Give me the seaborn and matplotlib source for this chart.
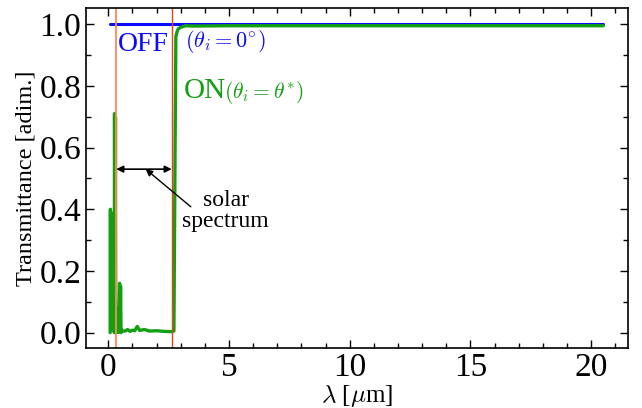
import numpy as np
import pandas as pd
import seaborn as sns
import matplotlib.pyplot as plt
from matplotlib.ticker import MultipleLocator

# OFF state: flat transmittance
x_off = [0.07, 20.5]
t_off = [1.0, 1.0]

# ON state
x_on = [0.08, 0.09, 0.10, 0.11, 0.12, 0.13, 0.14, 0.15, 0.17, 0.19, 0.21, 0.23, 0.25, 0.26, 0.28,
        0.30, 0.31, 0.33, 0.36, 0.38, 0.40, 0.42, 0.44, 0.47, 0.49, 0.51, 0.53, 0.55,
        0.60, 0.70, 0.80, 0.90, 1.00, 1.10, 1.20, 1.30, 1.50, 1.70, 2.00, 2.30, 2.60,
        2.72, 2.76, 2.80, 2.85, 2.90, 3.00, 3.20, 3.50, 5.0, 10.0, 15.0, 20.5]
t_on = [0.00, 0.40, 0.02, 0.39, 0.01, 0.38, 0.05, 0.35, 0.01, 0.30, 0.03, 0.25, 0.00, 0.71, 0.05,
        0.70, 0.00, 0.06, 0.08, 0.01, 0.07, 0.00, 0.04, 0.16, 0.02, 0.15, 0.00, 0.01,
        0.005, 0.005, 0.010, 0.004, 0.008, 0.006, 0.020, 0.007, 0.010, 0.005, 0.006, 0.004, 0.003,
        0.005, 0.50, 0.96, 0.975, 0.985, 0.990, 0.995, 0.994, 0.995, 0.995, 0.995, 0.995]

# solar spectrum limits
solar_lo, solar_hi = 0.33, 2.63

sns.set_style("ticks")
plt.rcParams['font.family'] = ['Liberation Serif', 'DejaVu Serif']
plt.rcParams['mathtext.fontset'] = 'cm'
for k in ['text.color', 'axes.labelcolor', 'xtick.color', 'ytick.color', 'axes.edgecolor']:
    plt.rcParams[k] = 'black'

blue = '#0a0aff'
green = '#12a012'

fig = plt.figure(figsize=(6.42, 4.08), dpi=100)
ax = fig.add_axes([0.134, 0.147, 0.844, 0.833])

sns.lineplot(x=x_off, y=t_off, ax=ax, color=blue, lw=2.2, estimator=None)
sns.lineplot(x=x_on, y=t_on, ax=ax, color=green, lw=2.4, estimator=None)

ax.axvline(solar_lo, color='#ff8855', lw=1.3)
ax.axvline(solar_hi, color='#e8401a', lw=1.0)

ax.annotate('', xy=(solar_lo, 0.53), xytext=(solar_hi, 0.53),
            arrowprops=dict(arrowstyle='<|-|>', color='black', lw=1.2,
                            mutation_scale=10, shrinkA=0, shrinkB=0))
ax.annotate('', xy=(1.55, 0.53), xytext=(3.42, 0.408),
            arrowprops=dict(arrowstyle='-|>', color='black', lw=1.0,
                            mutation_scale=10, shrinkA=0, shrinkB=0))
ax.text(4.86, 0.394, 'solar\nspectrum', ha='center', va='center', fontsize=17,
        linespacing=1.0)

ax.text(0.38, 0.913, 'OFF', color=blue, fontsize=20, ha='left', va='baseline')
ax.text(3.18, 0.926, r'$(\theta_i = 0^{\circ})$', color=blue, fontsize=16,
        ha='left', va='baseline')
ax.text(3.11, 0.76, 'ON', color=green, fontsize=21, ha='left', va='baseline')
ax.text(4.8, 0.76, r'$(\theta_i = \theta^{*})$', color=green, fontsize=15.5,
        ha='left', va='baseline')

ax.set_xlim(-0.92, 21.52)
ax.set_ylim(-0.05, 1.052)
ax.xaxis.set_major_locator(MultipleLocator(5))
ax.xaxis.set_minor_locator(MultipleLocator(1))
ax.yaxis.set_major_locator(MultipleLocator(0.2))
ax.yaxis.set_minor_locator(MultipleLocator(0.1))
ax.tick_params(which='both', direction='in', top=True, right=True, width=1)
ax.tick_params(which='major', length=6, labelsize=24)
ax.tick_params(which='minor', length=3.5)
for s in ax.spines.values():
    s.set_linewidth(1.2)

ax.set_xlabel(r'$\lambda$ [$\mu$m]', fontsize=18, labelpad=0)
ax.set_ylabel('Transmittance [adim.]', fontsize=17.5, labelpad=2)

fig.savefig('out.png', dpi=100)
